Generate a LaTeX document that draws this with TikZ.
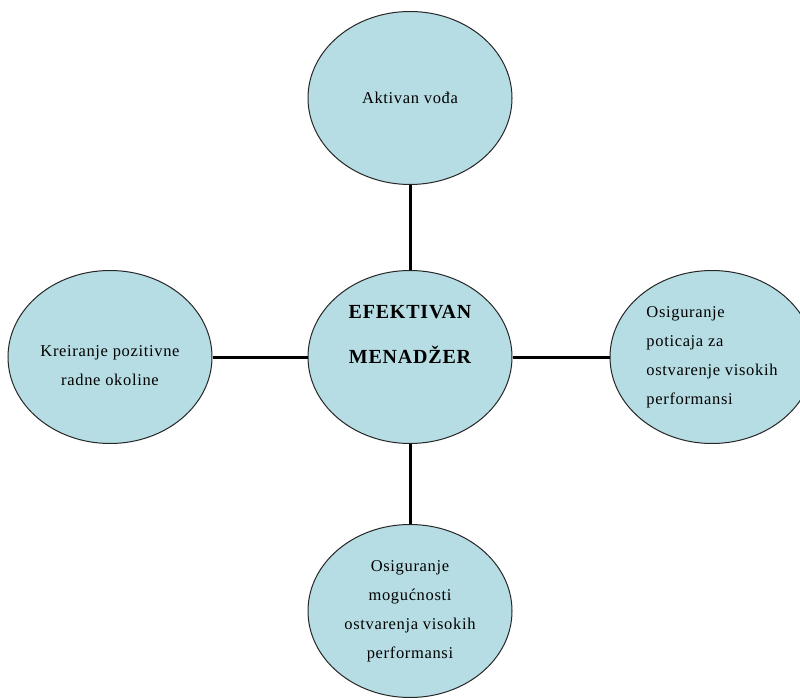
\documentclass[tikz,border=0pt]{standalone}
\usepackage{fontspec}
\usepackage{tikz}
\usetikzlibrary{shapes.geometric}
\newfontfamily\diagfont[LetterSpace=4]{Liberation Serif}
\definecolor{bubblefill}{RGB}{183,221,228}

\begin{document}
\begin{tikzpicture}[x=1pt, y=-1pt,
  bubble/.style={ellipse, draw=black!85, line width=1pt, fill=bubblefill, minimum width=204pt, minimum height=173pt, inner sep=0pt, align=center, font=\diagfont\fontsize{16.5}{29}\selectfont},
  link/.style={line width=3pt, black}]
\useasboundingbox (0,0) rectangle (800,700);
\node[bubble] at (410, 98) (vodja) {Aktivan vo\dj a};
\node[bubble, font=\diagfont\bfseries\fontsize{20}{45}\selectfont] at (410, 357) (menadzer) {EFEKTIVAN\\MENAD\v{Z}ER\\\mbox{}};
\draw[link] (vodja) -- (menadzer);
\node[bubble] at (110, 357) (okolina) {\mbox{}\\Kreiranje pozitivne\\radne okoline};
\draw[link] (okolina) -- (menadzer);
\node[bubble, align=left] at (712, 357) (poticaj) {Osiguranje\\poticaja za\\ostvarenje visokih\\performansi};
\draw[link] (poticaj) -- (menadzer);
\node[bubble] at (410, 611) (mogucnost) {Osiguranje\\mogu\'cnosti\\ostvarenja visokih\\performansi};
\draw[link] (mogucnost) -- (menadzer);
\end{tikzpicture}
\end{document}
